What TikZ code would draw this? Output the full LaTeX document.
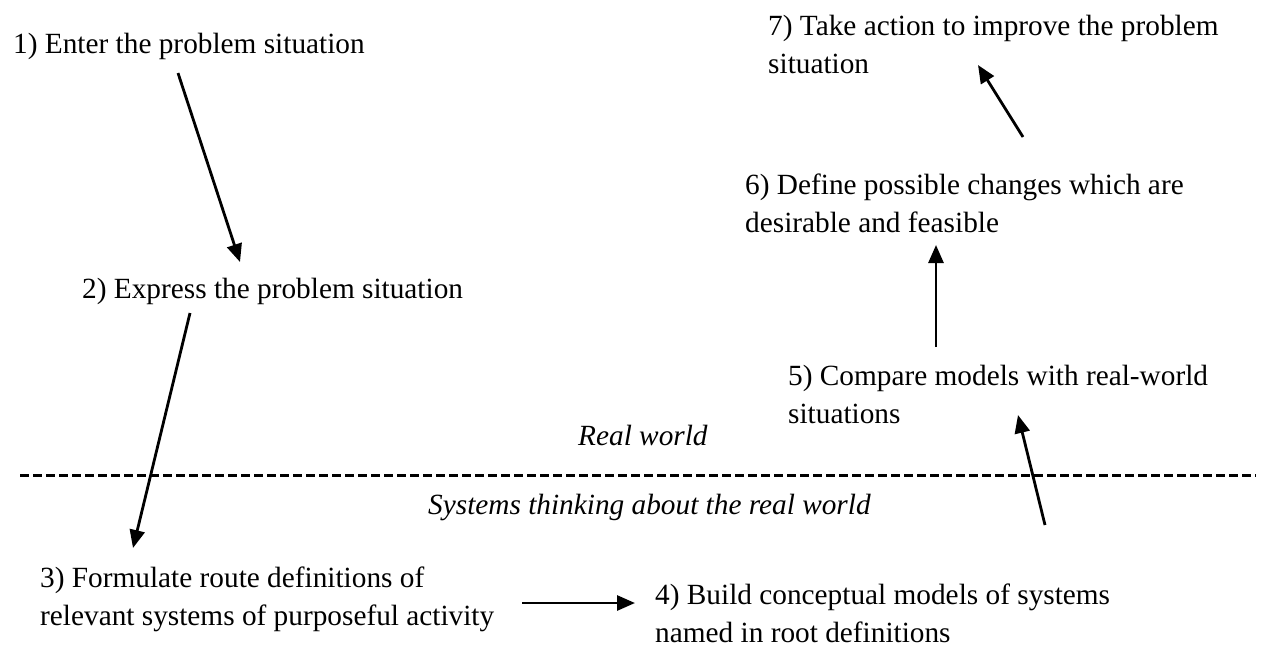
\documentclass[tikz,border=0pt]{standalone}
\usepackage{fontspec}
\setmainfont{Liberation Serif}
\usetikzlibrary{arrows.meta}

\begin{document}
\begin{tikzpicture}[x=1pt,y=-1pt,
		stage/.style={anchor=base west, inner sep=0pt, align=left,
			font=\fontsize{29.3}{38}\selectfont},
		world/.style={stage, font=\fontsize{29.3}{38}\selectfont\itshape},
		flow/.style={line width=2.8pt, -{Triangle[length=18pt,width=15pt]}},
		divider/.style={line width=3pt, dash pattern=on 9pt off 4pt}]
		\useasboundingbox (0,0) rectangle (1262,649);
		\node[stage] (enter) at (13,53) {1) Enter the problem situation};
		\node[stage] (express) at (82,298) {2) Express the problem situation};
		\node[stage] (formulate) at (40,625) {3) Formulate route definitions of\\relevant systems of purposeful activity};
		\node[stage] (build) at (655,642) {4) Build conceptual models of systems\\named in root definitions};
		\node[stage] (compare) at (788,423) {5) Compare models with real-world\\situations};
		\node[stage] (define) at (745,232) {6) Define possible changes which are\\desirable and feasible};
		\node[stage] (improve) at (768,73) {7) Take action to improve the problem\\situation};
		\node[world] (real) at (578,445) {Real world};
		\node[world] (systems) at (428,514) {Systems thinking about the real world};
		\draw[divider] (20,475) -- (1256,475);
		\draw[flow] ([xshift=165pt,yshift=-20pt]enter.base west) -- ([xshift=158pt,yshift=36pt]express.base west);
		\draw[flow] ([xshift=108pt,yshift=-15pt]express.base west) -- ([xshift=93pt,yshift=77pt]formulate.base west);
		\draw[flow] ([xshift=482pt,yshift=22pt]formulate.base west) -- ([xshift=-20pt,yshift=39pt]build.base west);
		\draw[flow] ([xshift=390pt,yshift=117pt]build.base west) -- ([xshift=230pt,yshift=8pt]compare.base west);
		\draw[flow] ([xshift=148pt,yshift=76pt]compare.base west) -- ([xshift=191pt,yshift=-13pt]define.base west);
		\draw[flow] ([xshift=278pt,yshift=95pt]define.base west) -- ([xshift=210pt,yshift=8pt]improve.base west);
\end{tikzpicture}
\end{document}
